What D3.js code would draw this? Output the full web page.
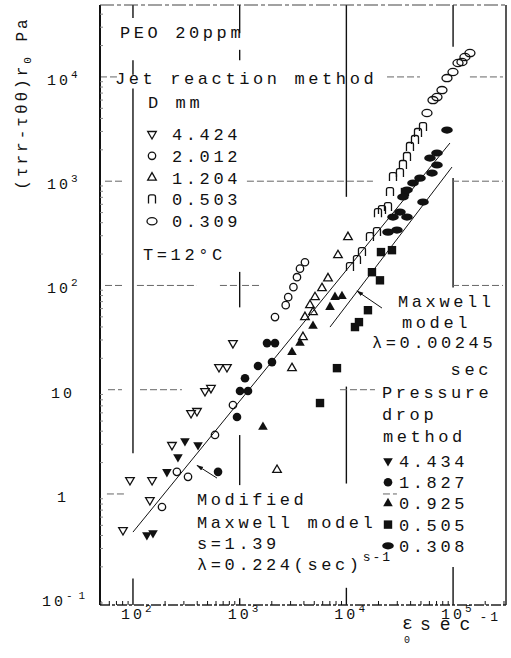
<!DOCTYPE html>
<html>
<head>
<meta charset="utf-8">
<script src="https://cdn.jsdelivr.net/npm/d3@7"></script>
<style>
  html, body { margin: 0; padding: 0; background: #fff; }
  svg { display: block; }
  text { font-family: "Liberation Mono", "DejaVu Sans Mono", monospace; fill: #111; }
</style>
</head>
<body>
<svg id="chart" width="511" height="658"></svg>
<script>
// jet reaction method, open symbols  [strain rate 1/s, (trr - tqq) r0 Pa]
const jet4424 = [[80.6, 0.451], [93.7, 1.36], [144, 0.875], [151, 1.36], [232, 2.95], [350, 5.97], [398, 6.25],
  [473, 9.71], [538, 10.4], [640, 16.5], [760, 16.5], [865, 28.0]]
const jet2012 = [[187, 0.75], [258, 1.63], [328, 1.46], [587, 3.68], [865, 7.13], [2143, 49.7], [2700, 64.7],
  [2850, 77.2], [3190, 96.3], [3444, 120], [3674, 145], [4091, 167]]
const jet1204 = [[2239, 1.70], [3092, 16.1], [3918, 32.0], [4091, 49.7], [4866, 55.5], [4560, 64.7], [5082, 77.2],
  [5908, 94.2], [6725, 117], [8343, 195], [10350, 291]]
const jet0503 = [[10810, 150], [12570, 175], [14000, 209], [16630, 291], [19360, 325], [19780, 494], [21560, 528],
  [24550, 565], [25630, 787], [27340, 1096], [31780, 1197], [33900, 1430], [36980, 1706], [39450, 2127],
  [43960, 2483], [46900, 2898], [52250, 3306]]
const jet0309 = [[56940, 4505], [64810, 5995], [70660, 6410], [78710, 7480], [87680, 9750], [99800, 11140],
  [111200, 13590], [121100, 13900], [129200, 15520], [143900, 16940]]

// pressure drop method, filled symbols
const drop4434 = [[135, 0.404], [154, 0.422], [208, 1.63], [264, 2.26], [307, 3.22], [407, 2.95]]
const drop1827 = [[627, 1.63], [944, 5.47], [1007, 9.71], [1197, 9.71], [1122, 12.9], [1485, 16.9], [2009, 18.4],
  [1803, 28.0], [2143, 28.0]]
const drop0925 = [[1653, 4.39], [3092, 22.9], [3674, 28.0], [4866, 40.8], [7023, 61.9], [7823, 77.2], [9094, 78.9]]
const drop0505 = [[5662, 7.45], [8163, 16.1], [12040, 39.9], [13120, 44.5], [15930, 57.9], [17370, 134],
  [20650, 112], [21100, 209], [26750, 218], [35400, 787]]
const drop0308 = [[87680, 3095], [70660, 1864], [60750, 1667], [70660, 1430], [63420, 1197], [48980, 1071],
  [42090, 960], [36980, 822], [33900, 705], [52250, 631], [31780, 506], [27340, 453], [36980, 453],
  [29790, 340], [24550, 325]]

// model curves
const modifiedMaxwell = [[100, 0.431], [93500, 2323]]
const maxwell = [[7023, 39.9], [97700, 1367]]
const maxwellArrow = [[21560, 60.7], [12570, 88.5]]
const modifiedArrow = [[613, 1.42], [398, 1.88]]

// tick labels
const xTickLabels = [{ v: 1e2, sup: '2' }, { v: 1e3, sup: '3' }, { v: 1e4, sup: '4' }, { v: 1e5, sup: '5' }]
const yTickLabels = [
  { v: 1e-1, base: '10', sup: '-1' }, { v: 1, base: '1' }, { v: 10, base: '10' },
  { v: 1e2, base: '10', sup: '2' }, { v: 1e3, base: '10', sup: '3' }, { v: 1e4, base: '10', sup: '4' }
]

const jetSeries = [
  { label: '4.424', shape: 'triDown', filled: false, values: jet4424 },
  { label: '2.012', shape: 'circle', filled: false, values: jet2012 },
  { label: '1.204', shape: 'triUp', filled: false, values: jet1204 },
  { label: '0.503', shape: 'square', filled: false, values: jet0503 },
  { label: '0.309', shape: 'ellipse', filled: false, values: jet0309 }
]
const dropSeries = [
  { label: '4.434', shape: 'triDown', filled: true, values: drop4434 },
  { label: '1.827', shape: 'circle', filled: true, values: drop1827 },
  { label: '0.925', shape: 'triUp', filled: true, values: drop0925 },
  { label: '0.505', shape: 'square', filled: true, values: drop0505 },
  { label: '0.308', shape: 'ellipse', filled: true, values: drop0308 }
]

// broken grid lines as scanned: spans in log10 units
const vDecadeLines = [
  { dec: 2, spans: [[4.565, 4.69], [4.02, 4.16], [0.39, 3.89], [-1.065, -0.81]] },
  { dec: 3, spans: [[4.42, 4.69], [4.16, 4.26], [1.79, 2.13], [0.085, 0.565], [-1.065, -1.0]] },
  { dec: 4, spans: [[2.85, 4.69], [0.10, 1.03], [-1.065, -0.9]] },
  { dec: 5, spans: [[4.29, 4.69], [1.98, 3.03], [-1.065, -0.70]] }
]
const hDecadeLines = [
  { dec: 4, spans: [[1.691, 1.85], [4.381, 4.69], [5.158, 5.468]] },
  { dec: 3, spans: [[1.738, 1.925], [3.068, 4.249], [4.99, 5.468]] },
  { dec: 2, spans: [[1.738, 1.925], [2.037, 2.60], [2.815, 3.003], [3.022, 3.209], [4.99, 5.468]] },
  { dec: 1, spans: [[1.766, 1.897], [2.066, 2.459], [3.94, 4.268]] },
  { dec: 0, spans: [[1.756, 1.925], [4.343, 4.474]] }
]

const ink = '#111'
const plot = { left: 100, right: 506, top: 5, bottom: 605 }

const svg = d3.select('#chart')

const x = d3.scaleLog().domain([10 ** 1.691, 10 ** 5.496]).range([plot.left, plot.right])
const y = d3.scaleLog().domain([10 ** -1.065, 10 ** 4.69]).range([plot.bottom, plot.top])

svg.append('rect').attr('width', 511).attr('height', 658).attr('fill', '#fff')

svg.append('defs').append('marker')
  .attr('id', 'arrow')
  .attr('viewBox', '0 0 10 10')
  .attr('refX', 9).attr('refY', 5)
  .attr('markerWidth', 7).attr('markerHeight', 7)
  .attr('orient', 'auto')
  .append('path')
  .attr('d', 'M0,2L10,5L0,8Z')
  .attr('fill', ink)

const renderGrid = (g) => {
  vDecadeLines.forEach(l => {
    l.spans.forEach(s => {
      g.append('line')
        .attr('x1', x(10 ** l.dec)).attr('x2', x(10 ** l.dec))
        .attr('y1', y(10 ** s[0])).attr('y2', y(10 ** s[1]))
        .attr('stroke', ink).attr('stroke-width', 1.4)
    })
  })
  hDecadeLines.forEach(l => {
    l.spans.forEach(s => {
      g.append('line')
        .attr('x1', x(10 ** s[0])).attr('x2', x(10 ** s[1]))
        .attr('y1', y(10 ** l.dec)).attr('y2', y(10 ** l.dec))
        .attr('stroke', '#666').attr('stroke-width', 1)
        .attr('stroke-dasharray', '7,3')
    })
  })
}

const renderFrame = (g) => {
  g.append('line')
    .attr('x1', plot.left).attr('x2', plot.left)
    .attr('y1', plot.top).attr('y2', plot.bottom)
    .attr('stroke', ink).attr('stroke-width', 2)
  g.append('line')
    .attr('x1', plot.right).attr('x2', plot.right)
    .attr('y1', plot.top).attr('y2', plot.bottom)
    .attr('stroke', ink).attr('stroke-width', 1.4)
  g.append('line')
    .attr('x1', plot.left).attr('x2', plot.right)
    .attr('y1', plot.top).attr('y2', plot.top)
    .attr('stroke', '#444').attr('stroke-width', 1.2)
    .attr('stroke-dasharray', '14,3,4,3')
  g.append('line')
    .attr('x1', plot.left).attr('x2', plot.right)
    .attr('y1', plot.bottom).attr('y2', plot.bottom)
    .attr('stroke', '#222').attr('stroke-width', 1.3)
    .attr('stroke-dasharray', '10,2,3,2')

  // minor ticks along the bottom and the left edge
  const xMinor = x.ticks().filter(v => !Number.isInteger(Math.log10(v)))
  g.selectAll('.xminor').data(xMinor).enter().append('line')
    .attr('x1', d => x(d)).attr('x2', d => x(d))
    .attr('y1', plot.bottom).attr('y2', plot.bottom - 4)
    .attr('stroke', ink).attr('stroke-width', 1)
  const yMinor = y.ticks().filter(v => !Number.isInteger(Math.log10(v)))
  g.selectAll('.yminor').data(yMinor).enter().append('line')
    .attr('x1', plot.left).attr('x2', plot.left + 3)
    .attr('y1', d => y(d)).attr('y2', d => y(d))
    .attr('stroke', '#888').attr('stroke-width', 1)
}

const renderTickLabels = (g) => {
  xTickLabels.forEach(t => {
    const txt = g.append('text')
      .attr('x', x(t.v) - 12).attr('y', 619)
      .attr('font-size', 15).attr('letter-spacing', 3)
    txt.append('tspan').text('10')
    txt.append('tspan').attr('dy', -7).attr('font-size', 11).text(t.sup)
  })
  yTickLabels.forEach(t => {
    const txt = g.append('text')
      .attr('y', y(t.v) + 8)
      .attr('font-size', 15).attr('letter-spacing', 3)
    if (t.sup) {
      txt.attr('x', t.sup === '-1' ? 42 : 47)
      txt.append('tspan').text(t.base)
      txt.append('tspan').attr('dy', -7).attr('font-size', 11)
        .attr('letter-spacing', t.sup === '-1' ? 6 : 3).text(t.sup)
    } else {
      txt.attr('x', 63).attr('text-anchor', 'middle').text(t.base)
    }
  })
}

const appendMarker = (g, s, cx, cy) => {
  let el
  if (s.shape === 'circle') {
    el = g.append('circle').attr('cx', cx).attr('cy', cy).attr('r', s.filled ? 4.3 : 3.7)
  } else if (s.shape === 'ellipse') {
    el = g.append('ellipse').attr('cx', cx).attr('cy', cy)
      .attr('rx', s.filled ? 5.8 : 5).attr('ry', s.filled ? 3.6 : 3.6)
  } else if (s.shape === 'square') {
    el = s.filled
      ? g.append('rect').attr('x', cx - 4.2).attr('y', cy - 4.2).attr('width', 8.4).attr('height', 8.4)
      : g.append('path').attr('d', `M${cx - 3.5},${cy + 4}V${cy - 2.5}Q${cx - 3.5},${cy - 4.5} ${cx - 1.5},${cy - 4.5}H${cx + 1.5}Q${cx + 3.5},${cy - 4.5} ${cx + 3.5},${cy - 2.5}V${cy + 4}`)
  } else {
    el = g.append('path')
      .attr('d', d3.symbol(d3.symbolTriangle, s.filled ? 40 : 32)())
      .attr('transform', `translate(${cx},${cy})${s.shape === 'triDown' ? ' rotate(180)' : ''}`)
  }
  el.attr('fill', s.filled ? ink : 'none')
    .attr('stroke', s.filled ? 'none' : ink)
    .attr('stroke-width', 1.3)
}

const renderSeries = (g, series) => {
  series.forEach(s => {
    s.values.forEach(d => appendMarker(g, s, x(d[0]), y(d[1])))
  })
}

const renderModels = (g) => {
  const line = d3.line().x(d => x(d[0])).y(d => y(d[1]))
  ;[modifiedMaxwell, maxwell].forEach(m => {
    g.append('path').datum(m)
      .attr('d', line)
      .attr('fill', 'none').attr('stroke', ink).attr('stroke-width', 1)
  })
  ;[maxwellArrow, modifiedArrow].forEach(a => {
    g.append('path').datum(a)
      .attr('d', line)
      .attr('fill', 'none').attr('stroke', ink).attr('stroke-width', 1)
      .attr('marker-end', 'url(#arrow)')
  })
}

const label = (g, px, py, str, opts = {}) => g.append('text')
  .attr('x', px).attr('y', py)
  .attr('font-size', opts.size || 17)
  .attr('letter-spacing', opts.spacing || 3.6)
  .attr('text-anchor', opts.anchor || 'start')
  .text(str)

const renderLegends = (g) => {
  label(g, 120, 38, 'PEO 20ppm')
  label(g, 115, 84, 'Jet reaction method')
  label(g, 148, 108, 'D mm')
  jetSeries.forEach((s, i) => {
    const base = 140 + i * 21.8
    appendMarker(g, s, 152, base - 6)
    label(g, 172, base, s.label)
  })
  label(g, 143, 260, 'T=12°C')

  label(g, 382, 398, 'Pressure')
  label(g, 382, 420, 'drop')
  label(g, 383, 442, 'method')
  dropSeries.forEach((s, i) => {
    const base = 467 + i * 21.2
    appendMarker(g, s, 388, base - 6)
    label(g, 399, base, s.label)
  })

  label(g, 398, 307, 'Maxwell')
  label(g, 402, 328, 'model')
  label(g, 372, 348, 'λ=0.00245')
  label(g, 492, 375, 'sec', { anchor: 'end' })

  label(g, 197, 505, 'Modified')
  label(g, 197, 528, 'Maxwell model')
  label(g, 197, 549, 's=1.39')
  const lam = label(g, 197, 570, 'λ=0.224(sec)')
  lam.append('tspan').attr('dy', -9).attr('font-size', 13).attr('letter-spacing', 2).text('s-1')
}

const renderAxisTitles = (g) => {
  g.append('text').attr('x', 402).attr('y', 629)
    .attr('font-size', 18).text('ε')
  g.append('text').attr('x', 404).attr('y', 643)
    .attr('font-size', 10).text('0')
  const xt = g.append('text').attr('x', 420).attr('y', 630)
    .attr('font-size', 18).attr('letter-spacing', 9)
  xt.append('tspan').text('sec')
  xt.append('tspan').attr('dy', -9).attr('font-size', 13).attr('letter-spacing', 3).text('-1')

  const yt = g.append('text')
    .attr('transform', 'translate(27,103) rotate(-90)')
    .attr('text-anchor', 'middle')
    .attr('font-size', 16).attr('letter-spacing', 3)
  yt.append('tspan').text('(τrr-τθθ)r')
  yt.append('tspan').attr('dy', 4).attr('font-size', 11).text('0')
  yt.append('tspan').attr('dy', -4).text(' Pa')
}

const root = svg.append('g')
renderGrid(root.append('g').attr('class', 'grid'))
renderFrame(root.append('g').attr('class', 'frame'))
renderTickLabels(root.append('g').attr('class', 'ticks'))
renderModels(root.append('g').attr('class', 'models'))
renderSeries(root.append('g').attr('class', 'jet'), jetSeries)
renderSeries(root.append('g').attr('class', 'drop'), dropSeries)
renderLegends(root.append('g').attr('class', 'legend'))
renderAxisTitles(root.append('g').attr('class', 'titles'))
</script>
</body>
</html>
